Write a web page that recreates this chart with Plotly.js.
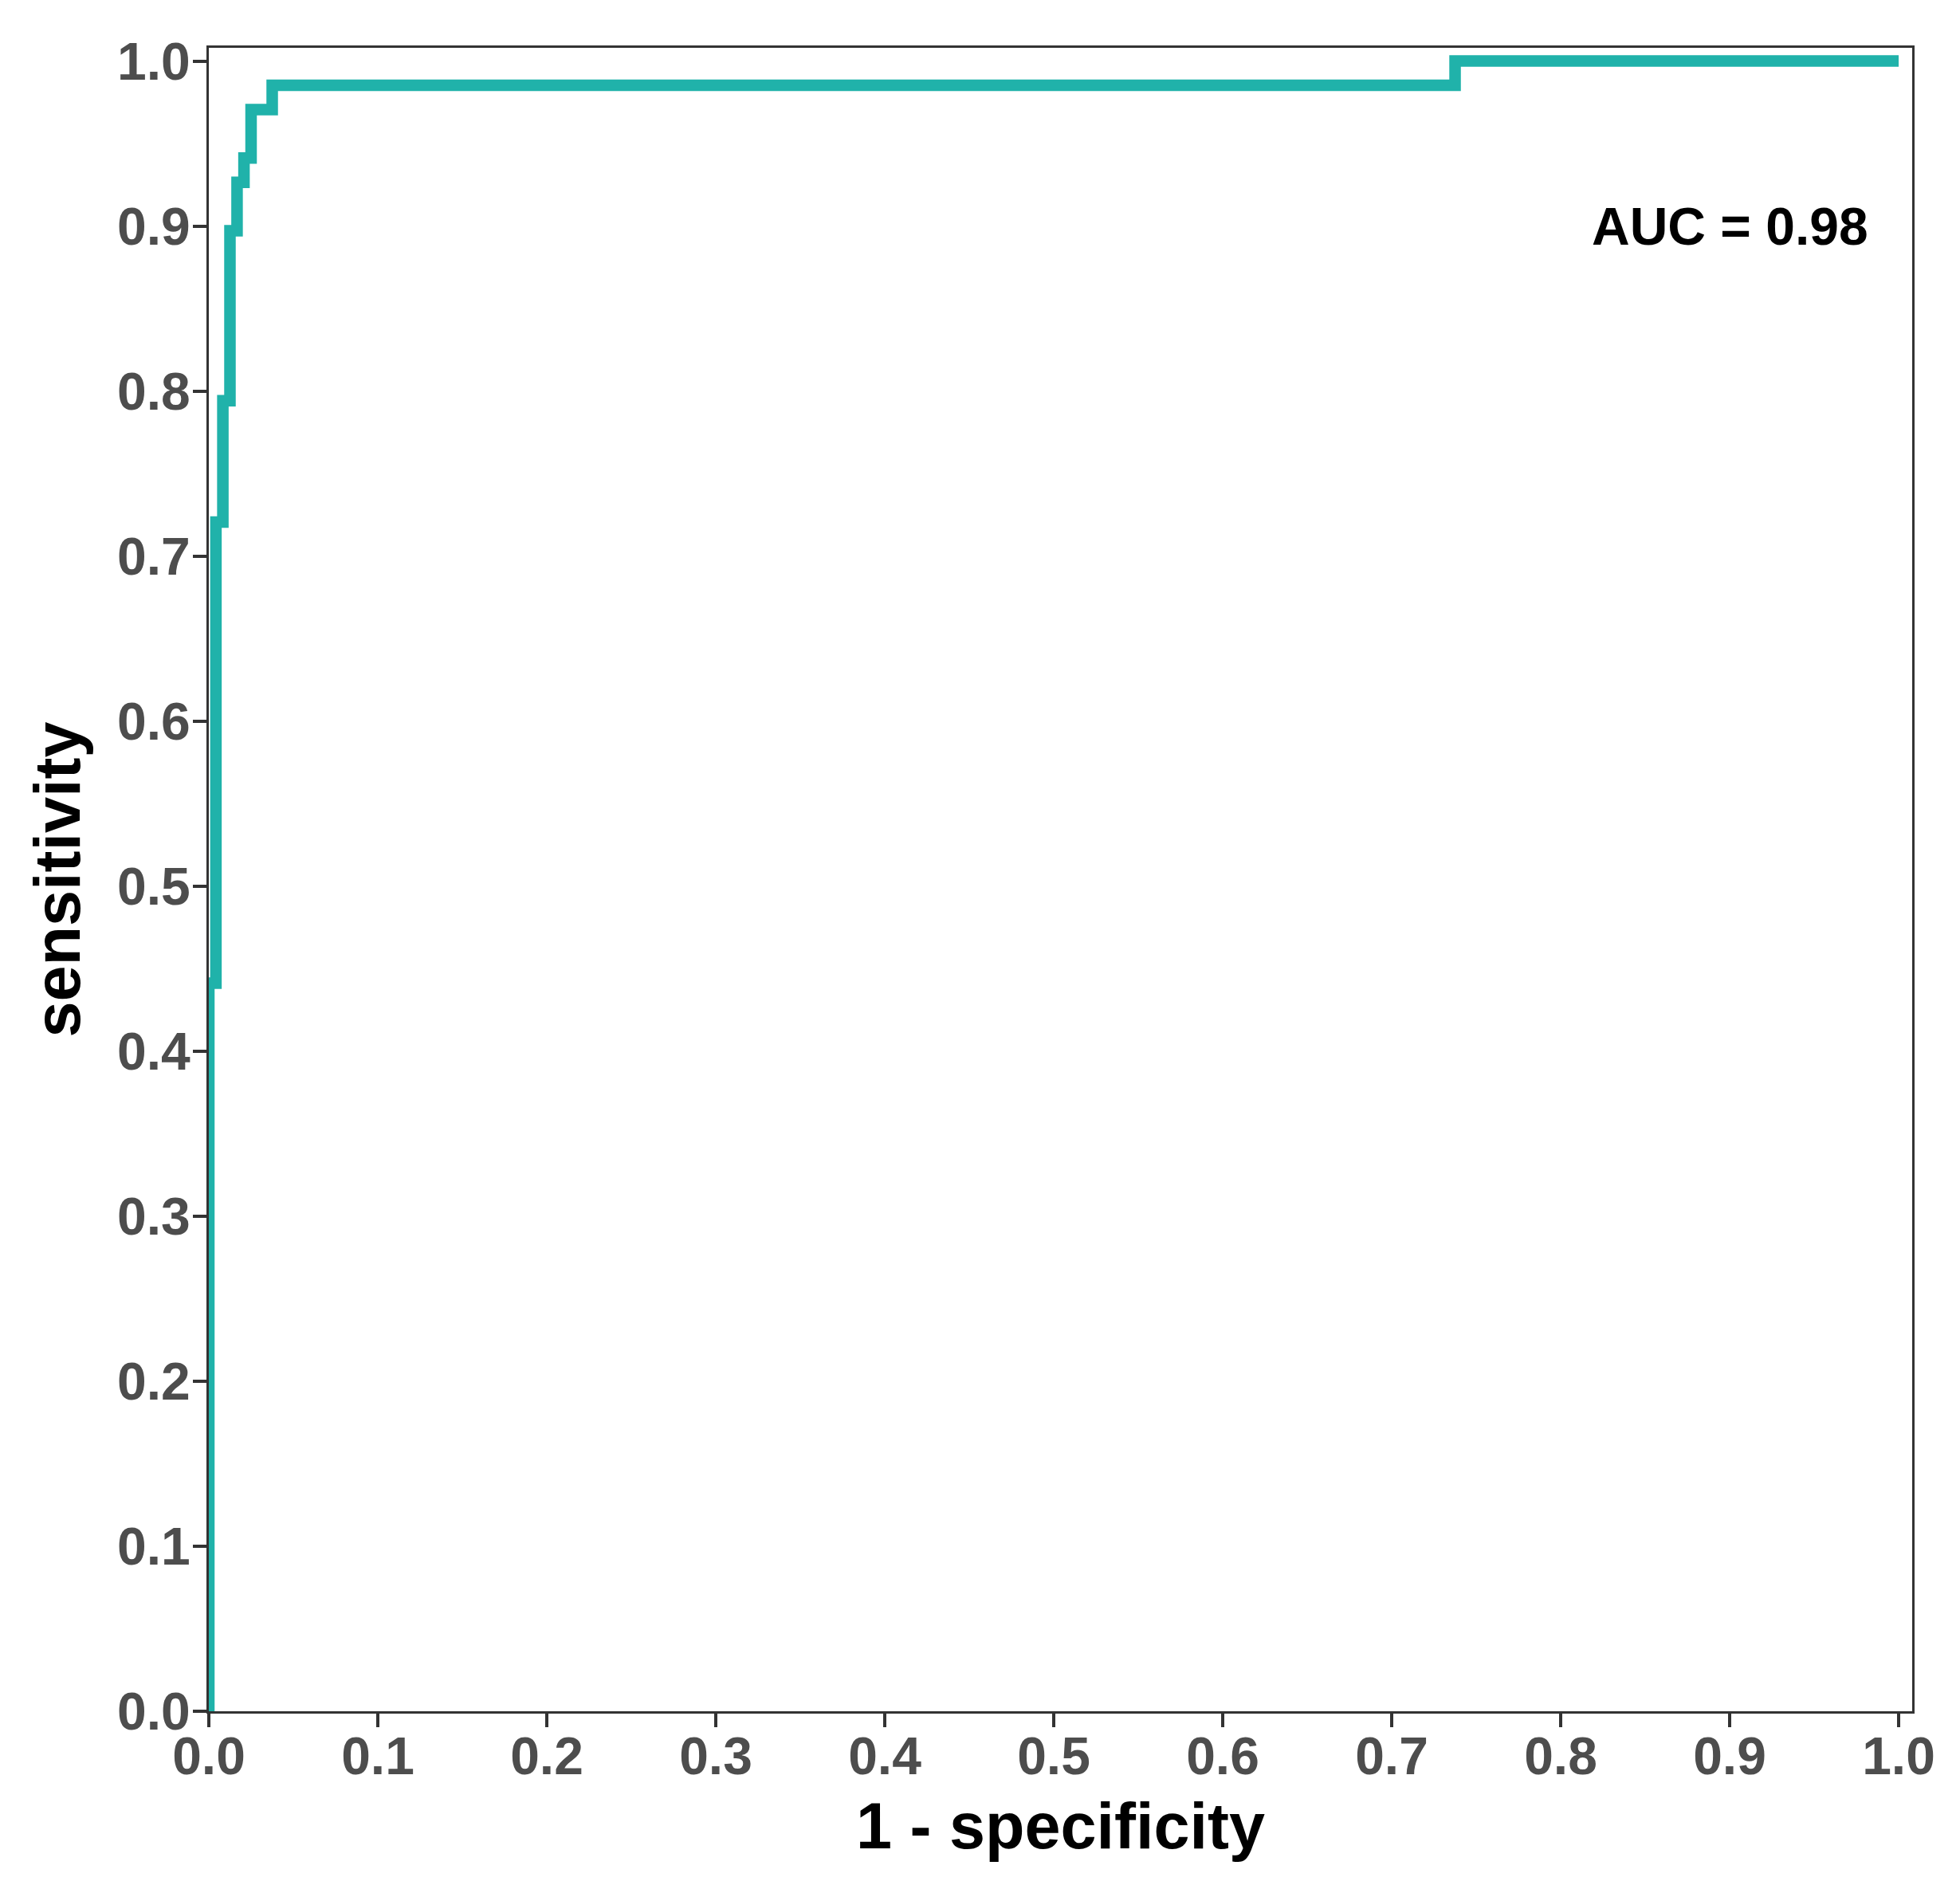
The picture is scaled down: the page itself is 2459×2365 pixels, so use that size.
<!DOCTYPE html>
<html>
<head>
<meta charset="utf-8">
<script src="https://cdn.plot.ly/plotly-3.0.1.min.js"></script>
<style>
  html, body { margin: 0; padding: 0; background: #ffffff; }
  #chart { width: 2459px; height: 2365px; }
</style>
</head>
<body>
<div id="chart"></div>
<script>
// ROC curve step points (1 - specificity, sensitivity)
var fpr = [0, 0, 0.0042, 0.0083, 0.0125, 0.0167, 0.0208, 0.025, 0.0375, 0.7375, 1.0];
var sensitivity = [0, 0.4412, 0.7206, 0.7941, 0.8971, 0.9265, 0.9412, 0.9706, 0.9853, 1.0, 1.0];
var tickValues = [0, 0.1, 0.2, 0.3, 0.4, 0.5, 0.6, 0.7, 0.8, 0.9, 1.0];
var tickLabels = ["0.0", "0.1", "0.2", "0.3", "0.4", "0.5", "0.6", "0.7", "0.8", "0.9", "1.0"];
var aucLabel = "AUC = 0.98";
var aucPos = {x: 0.9, y: 0.9};

var FONT = "Liberation Sans, Arial, Helvetica, sans-serif";

var trace = {
  x: fpr,
  y: sensitivity,
  type: "scatter",
  mode: "lines",
  line: {color: "#20B2AA", width: 14.5, shape: "hv"},
  hoverinfo: "skip",
  showlegend: false,
  cliponaxis: false
};

var axisCommon = {
  tickmode: "array",
  tickvals: tickValues,
  ticktext: tickLabels,
  showgrid: false,
  zeroline: false,
  showline: true,
  linecolor: "#333333",
  linewidth: 3,
  mirror: true,
  ticks: "outside",
  ticklen: 17,
  tickwidth: 4,
  tickcolor: "#333333",
  tickfont: {family: FONT, size: 66, color: "#4D4D4D", weight: "bold"},
  fixedrange: true
};

var layout = {
  width: 2459,
  height: 2365,
  paper_bgcolor: "#ffffff",
  plot_bgcolor: "#ffffff",
  margin: {l: 262, r: 60, t: 60, b: 218, pad: 0},
  xaxis: Object.assign({}, axisCommon, {
    range: [0, 1.008],
    ticklabelstandoff: -20,
    title: {text: "1 - specificity", font: {family: FONT, size: 81, color: "#000000", weight: "bold"}, standoff: 24}
  }),
  yaxis: Object.assign({}, axisCommon, {
    range: [0, 1.008],
    ticklabelstandoff: -10,
    title: {text: "sensitivity", font: {family: FONT, size: 81, color: "#000000", weight: "bold"}, standoff: 20}
  }),
  annotations: [{
    x: aucPos.x, y: aucPos.y, xref: "x", yref: "y",
    text: aucLabel, showarrow: false,
    xanchor: "center", yanchor: "middle",
    font: {family: FONT, size: 66, color: "#000000", weight: "bold"}
  }]
};

Plotly.newPlot("chart", [trace], layout, {displayModeBar: false, staticPlot: true});
</script>
</body>
</html>
